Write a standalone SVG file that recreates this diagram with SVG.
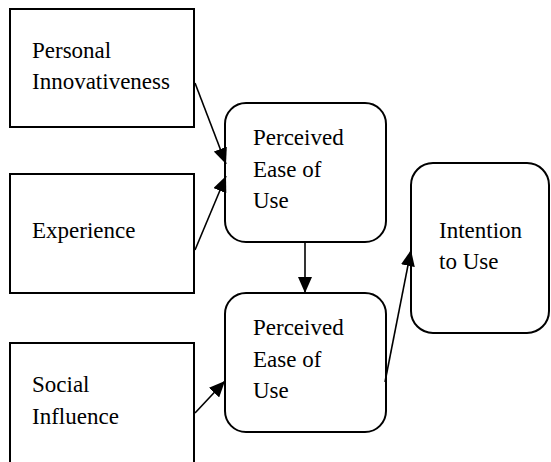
<svg xmlns="http://www.w3.org/2000/svg" width="551" height="462" viewBox="0 0 551 462">
<style>
.box{fill:#fff;stroke:#000;stroke-width:2}
text{font-family:'Liberation Serif','DejaVu Serif',serif;font-size:23px;fill:#000}
.c{stroke:#000;stroke-width:1.6;fill:none}
</style>
<defs>
<marker id="ah" viewBox="0 0 16 14" refX="16" refY="7" markerWidth="16" markerHeight="14" markerUnits="userSpaceOnUse" orient="auto">
<path d="M0,0 L16,7 L0,14 Z" fill="#000"/>
</marker>
</defs>
<rect width="551" height="462" fill="#fff"/>
<g id="personal">
<rect class="box" x="10" y="9" width="184" height="118"/>
<text x="32" y="58">Personal</text>
<text x="32" y="89">Innovativeness</text>
</g>
<g id="experience">
<rect class="box" x="10" y="174" width="184" height="119"/>
<text x="32" y="238">Experience</text>
</g>
<g id="social">
<rect class="box" x="10" y="343" width="184" height="125"/>
<text x="32" y="392">Social</text>
<text x="32" y="424">Influence</text>
</g>
<g id="peou1">
<rect class="box" x="225" y="103" width="161" height="139" rx="21"/>
<text x="253" y="145">Perceived</text>
<text x="253" y="177">Ease of</text>
<text x="253" y="208">Use</text>
</g>
<g id="peou2">
<rect class="box" x="225" y="293" width="161" height="139" rx="21"/>
<text x="253" y="335">Perceived</text>
<text x="253" y="367">Ease of</text>
<text x="253" y="398">Use</text>
</g>
<g id="intention">
<rect class="box" x="411" y="163" width="138" height="170" rx="22"/>
<text x="439" y="238">Intention</text>
<text x="439" y="269">to Use</text>
</g>
<g id="connectors">
<line class="c" x1="195" y1="83" x2="226" y2="164" marker-end="url(#ah)"/>
<line class="c" x1="195" y1="250" x2="226" y2="176" marker-end="url(#ah)"/>
<line class="c" x1="305" y1="242" x2="305" y2="293" marker-end="url(#ah)"/>
<line class="c" x1="195" y1="413" x2="225" y2="381" marker-end="url(#ah)"/>
<line class="c" x1="385" y1="382" x2="411" y2="250" marker-end="url(#ah)"/>
</g>
</svg>
